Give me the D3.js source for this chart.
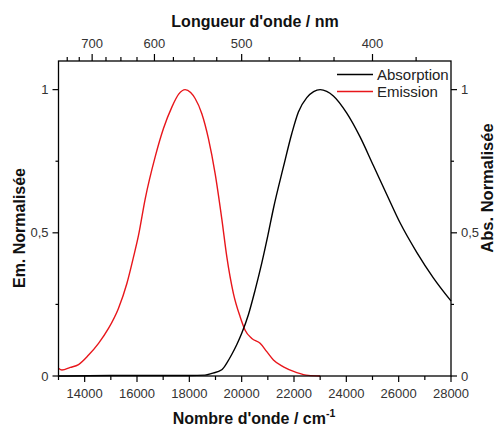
<!DOCTYPE html>
<html><head><meta charset="utf-8">
<script src="https://cdn.jsdelivr.net/npm/d3@7"></script>
<style>body{margin:0;background:#fff}svg{display:block}text{font-family:"Liberation Sans",Arial,sans-serif}</style>
</head><body>
<svg id="c" width="500" height="428"></svg>
<script>
const absX = [13000,15000,17000,18000,18600,18860,19240,19430,19620,19815,20006,20260,20514,20770,21000,21214,21595,21916,22168,22489,22750,23000,23250,23505,24017,24525,25033,25545,26053,26691,27325,28000];
const absY = [0,0.002,0.002,0.002,0.003,0.009,0.022,0.045,0.075,0.110,0.150,0.215,0.300,0.395,0.490,0.585,0.730,0.847,0.922,0.972,0.993,1.0,0.994,0.978,0.918,0.835,0.735,0.634,0.535,0.432,0.343,0.262];
const emX = [13000,13130,13450,13765,14150,14530,14910,15290,15613,15865,16055,16312,16694,17011,17332,17600,17840,18050,18222,18478,18730,18986,19242,19433,19685,19941,20132,20388,20705,20961,21214,21595,22107,22550,23000];
const emY = [0.027,0.021,0.030,0.040,0.073,0.114,0.166,0.236,0.323,0.415,0.490,0.618,0.765,0.864,0.939,0.985,1.0,0.990,0.969,0.916,0.829,0.707,0.548,0.416,0.288,0.207,0.160,0.131,0.114,0.085,0.056,0.032,0.012,0.002,0];
const xMajor = [14000,16000,18000,20000,22000,24000,26000,28000];
const xMinor = [13000,15000,17000,19000,21000,23000,25000,27000];
const yMajor = [0,0.5,1];
const yMinor = [0.25,0.75];
const yLabels = ["0","0,5","1"];
const wlMajor = [700,600,500,400];
const wlMinor = [750,725,675,650,625,575,550,525,475,450,425,375];
const seriesNames = ["Absorption","Emission"];
const seriesColors = ["#000000","#e8161b"];

const L=58.5,R=451,T=61,B=376;
const svg=d3.select("#c");
const x=d3.scaleLinear().domain([13000,28000]).range([L,R]);
const y=d3.scaleLinear().domain([0,1.1]).range([B,T]);
const tc="#333";

const line=d3.line().x(d=>x(d[0])).y(d=>y(d[1])).curve(d3.curveMonotoneX);
svg.append("path").attr("d",line(emX.map((v,i)=>[v,emY[i]]))).attr("fill","none").attr("stroke",seriesColors[1]).attr("stroke-width",1.4);
svg.append("path").attr("d",line(absX.map((v,i)=>[v,absY[i]]))).attr("fill","none").attr("stroke",seriesColors[0]).attr("stroke-width",1.4);

svg.append("rect").attr("x",L).attr("y",T).attr("width",R-L).attr("height",B-T).attr("fill","none").attr("stroke","#000").attr("stroke-width",1.3);

const g=svg.append("g").attr("stroke","#000").attr("stroke-width",1.2);
xMajor.forEach(v=>g.append("line").attr("x1",x(v)).attr("x2",x(v)).attr("y1",B).attr("y2",B+6));
xMinor.forEach(v=>g.append("line").attr("x1",x(v)).attr("x2",x(v)).attr("y1",B).attr("y2",B+4));
wlMajor.forEach(v=>g.append("line").attr("x1",x(1e7/v)).attr("x2",x(1e7/v)).attr("y1",T).attr("y2",T-7));
wlMinor.forEach(v=>g.append("line").attr("x1",x(1e7/v)).attr("x2",x(1e7/v)).attr("y1",T).attr("y2",T-4));
yMajor.forEach(v=>{g.append("line").attr("x1",L).attr("x2",L-6).attr("y1",y(v)).attr("y2",y(v));
  g.append("line").attr("x1",R).attr("x2",R+6).attr("y1",y(v)).attr("y2",y(v));});
yMinor.forEach(v=>{g.append("line").attr("x1",L).attr("x2",L-3).attr("y1",y(v)).attr("y2",y(v));
  g.append("line").attr("x1",R).attr("x2",R+3).attr("y1",y(v)).attr("y2",y(v));});

xMajor.forEach(v=>svg.append("text").attr("x",x(v)).attr("y",398).attr("text-anchor","middle").attr("font-size",13).attr("fill",tc).text(v));
wlMajor.forEach(v=>svg.append("text").attr("x",x(1e7/v)).attr("y",48).attr("text-anchor","middle").attr("font-size",13).attr("fill",tc).text(v));
yMajor.forEach((v,i)=>{svg.append("text").attr("x",L-10).attr("y",y(v)+4.5).attr("text-anchor","end").attr("font-size",13).attr("fill",tc).text(yLabels[i]);
  svg.append("text").attr("x",R+10).attr("y",y(v)+4.5).attr("text-anchor","start").attr("font-size",13).attr("fill",tc).text(yLabels[i]);});

svg.append("text").attr("x",255).attr("y",27).attr("text-anchor","middle").attr("font-size",16).attr("font-weight","bold").attr("fill","#111").text("Longueur d'onde / nm");
const bt=svg.append("text").attr("x",254).attr("y",424).attr("text-anchor","middle").attr("font-size",16).attr("font-weight","bold").attr("fill","#111");
bt.append("tspan").text("Nombre d'onde / cm");
bt.append("tspan").attr("dy",-7).attr("font-size",10.5).text("-1");
svg.append("text").attr("transform","translate(25,228) rotate(-90)").attr("text-anchor","middle").attr("font-size",16).attr("font-weight","bold").attr("fill","#111").text("Em. Normalisée");
svg.append("text").attr("transform","translate(493,188) rotate(-90)").attr("text-anchor","middle").attr("font-size",16.5).attr("font-weight","bold").attr("fill","#111").text("Abs. Normalisée");

seriesNames.forEach((n,i)=>{const yy=74.5+i*17;
  svg.append("line").attr("x1",337).attr("x2",373).attr("y1",yy).attr("y2",yy).attr("stroke",seriesColors[i]).attr("stroke-width",1.4);
  svg.append("text").attr("x",377).attr("y",yy+5.5).attr("font-size",15).attr("fill","#222").text(n);});
</script>
</body></html>
